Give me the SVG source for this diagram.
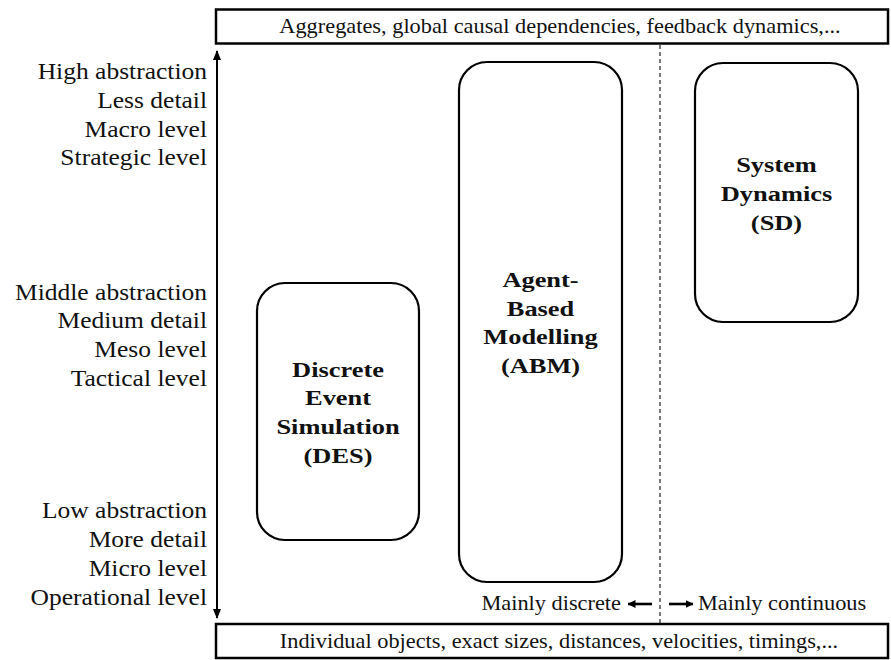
<svg xmlns="http://www.w3.org/2000/svg" width="891" height="660" viewBox="0 0 891 660">
  <style>
    .frame { fill: none; stroke: #000; stroke-width: 2.5; }
    .node { fill: #fff; stroke: #000; stroke-width: 2.2; }
    text { font-family: 'Liberation Serif', 'DejaVu Serif', serif; fill: #111; }
    .band { font-size: 20.5px; }
    .level { font-size: 23px; text-anchor: end; }
    .title { font-size: 22px; font-weight: bold; text-anchor: middle; }
    .axis { stroke: #000; stroke-width: 2; fill: none; }
    .pointer { stroke: #000; stroke-width: 2.6; fill: none; }
    .divider { stroke: #222; stroke-width: 1.2; stroke-dasharray: 4 3; fill: none; }
  </style>
  <defs>
    <marker id="head" viewBox="0 0 10 8" refX="9" refY="4" markerWidth="10" markerHeight="8" markerUnits="userSpaceOnUse" orient="auto">
      <path d="M0,0 L10,4 L0,8 Z" fill="#000"/>
    </marker>
    <marker id="head-small" viewBox="0 0 8 8" refX="7.5" refY="4" markerWidth="8" markerHeight="8" markerUnits="userSpaceOnUse" orient="auto">
      <path d="M0,0 L8,4 L0,8 Z" fill="#000"/>
    </marker>
  </defs>

  <rect width="891" height="660" fill="#fff"/>

  <!-- top band -->
  <g id="top-band">
    <rect class="frame" x="216" y="9.5" width="672" height="34"/>
    <g transform="translate(560,0) scale(1.09,1)">
      <text class="band" x="0" y="33" text-anchor="middle">Aggregates, global causal dependencies, feedback dynamics,...</text>
    </g>
  </g>

  <!-- bottom band -->
  <g id="bottom-band">
    <rect class="frame" x="216" y="624" width="672" height="34"/>
    <g transform="translate(559,0) scale(1.09,1)">
      <text class="band" x="0" y="648" text-anchor="middle">Individual objects, exact sizes, distances, velocities, timings,...</text>
    </g>
  </g>

  <!-- abstraction level labels -->
  <g id="levels" transform="translate(207,0) scale(1.11,1)">
    <text class="level" x="0" y="79">High abstraction</text>
    <text class="level" x="0" y="108">Less detail</text>
    <text class="level" x="0" y="137">Macro level</text>
    <text class="level" x="0" y="165">Strategic level</text>
    <text class="level" x="0" y="300">Middle abstraction</text>
    <text class="level" x="0" y="328">Medium detail</text>
    <text class="level" x="0" y="357">Meso level</text>
    <text class="level" x="0" y="386">Tactical level</text>
    <text class="level" x="0" y="518">Low abstraction</text>
    <text class="level" x="0" y="547">More detail</text>
    <text class="level" x="0" y="576">Micro level</text>
    <text class="level" x="0" y="605">Operational level</text>
  </g>

  <!-- connectors: axis, divider, direction arrows -->
  <g id="connectors">
    <line class="axis" x1="217" y1="330" x2="217" y2="51" marker-end="url(#head)"/>
    <line class="axis" x1="217" y1="330" x2="217" y2="618" marker-end="url(#head)"/>
    <line class="divider" x1="660" y1="45" x2="660" y2="623"/>
    <line class="pointer" x1="652" y1="604" x2="628" y2="604" marker-end="url(#head-small)"/>
    <line class="pointer" x1="669" y1="604" x2="693" y2="604" marker-end="url(#head-small)"/>
  </g>

  <g id="direction-labels">
    <g transform="translate(621,0) scale(1.09,1)">
      <text class="band" x="0" y="610" text-anchor="end">Mainly discrete</text>
    </g>
    <g transform="translate(698,0) scale(1.09,1)">
      <text class="band" x="0" y="610" text-anchor="start">Mainly continuous</text>
    </g>
  </g>

  <!-- DES -->
  <g id="des">
    <rect class="node" x="257" y="283" width="162" height="257" rx="28" ry="28"/>
    <g transform="translate(338,0) scale(1.2,1)">
      <text class="title" x="0" y="377">Discrete</text>
      <text class="title" x="0" y="405">Event</text>
      <text class="title" x="0" y="434">Simulation</text>
      <text class="title" x="0" y="463">(DES)</text>
    </g>
  </g>

  <!-- ABM -->
  <g id="abm">
    <rect class="node" x="459" y="62" width="163" height="520" rx="28" ry="28"/>
    <g transform="translate(540.5,0) scale(1.2,1)">
      <text class="title" x="0" y="287">Agent-</text>
      <text class="title" x="0" y="316">Based</text>
      <text class="title" x="0" y="344">Modelling</text>
      <text class="title" x="0" y="373">(ABM)</text>
    </g>
  </g>

  <!-- SD -->
  <g id="sd">
    <rect class="node" x="695" y="63" width="163" height="259" rx="28" ry="28"/>
    <g transform="translate(776.5,0) scale(1.2,1)">
      <text class="title" x="0" y="172">System</text>
      <text class="title" x="0" y="201">Dynamics</text>
      <text class="title" x="0" y="230">(SD)</text>
    </g>
  </g>
</svg>
